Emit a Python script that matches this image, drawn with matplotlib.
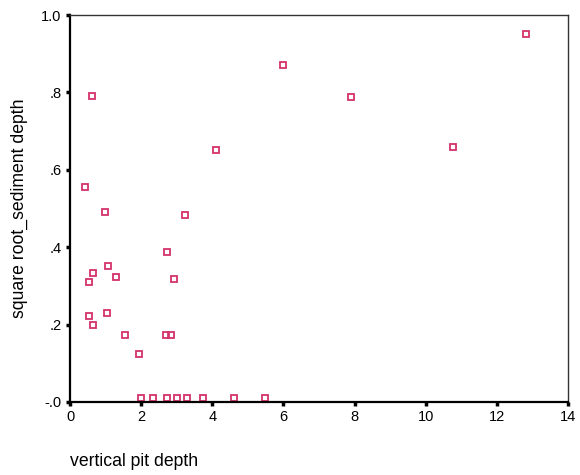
import matplotlib
matplotlib.use('Agg')
import matplotlib.pyplot as plt

plt.rcParams['font.family'] = ['Liberation Sans', 'DejaVu Sans']

# Pit depth vs square-root sediment depth
pit_depth = [0.63, 0.42, 0.98, 3.22, 4.11,
             2.72, 0.53, 0.64, 1.08, 1.30, 2.91, 0.53, 0.64, 1.04,
             1.55, 2.70, 2.83, 1.93,
             12.82, 5.99, 7.89, 10.78,
             2.00, 2.32, 2.72, 3.00, 3.29, 3.73, 4.60, 5.49]
sqrt_sediment = [0.790, 0.555, 0.492, 0.483, 0.652,
                 0.387, 0.310, 0.334, 0.351, 0.323, 0.317, 0.221, 0.198, 0.231,
                 0.172, 0.172, 0.172, 0.125,
                 0.952, 0.870, 0.789, 0.660,
                 0.01, 0.01, 0.01, 0.01, 0.01, 0.01, 0.01, 0.01]

x_ticks = [0, 2, 4, 6, 8, 10, 12, 14]
y_ticks = [0.0, 0.2, 0.4, 0.6, 0.8, 1.0]
y_tick_labels = ['-.0', '.2', '.4', '.6', '.8', '1.0']

fig = plt.figure(figsize=(5.8, 4.75), dpi=100)
ax = fig.add_axes([0.1207, 0.1537, 0.8586, 0.8147])

ax.plot(pit_depth, sqrt_sediment, linestyle='none', marker='s', ms=4.6,
        mfc='none', mec='#d4326a', mew=1.3)

ax.set_xlim(0, 14)
ax.set_ylim(0, 1.0)
ax.set_xticks(x_ticks)
ax.set_yticks(y_ticks)
ax.set_yticklabels(y_tick_labels)
ax.tick_params(direction='out', length=3, width=2.5, labelsize=10.5, pad=3)

for side in ['left', 'bottom']:
    ax.spines[side].set_linewidth(1.6)
for side in ['top', 'right']:
    ax.spines[side].set_linewidth(1.0)
    ax.spines[side].set_color('#333333')

# axis titles placed the way the stats package lays them out
fig.text(19 / 580, 1 - 208 / 475, 'square root_sediment depth', fontsize=12.7,
         rotation=90, ha='center', va='center')
fig.text(70 / 580, 1 - 462 / 475, 'vertical pit depth', fontsize=12.7,
         ha='left', va='center')

fig.savefig('out.png', dpi=100)
